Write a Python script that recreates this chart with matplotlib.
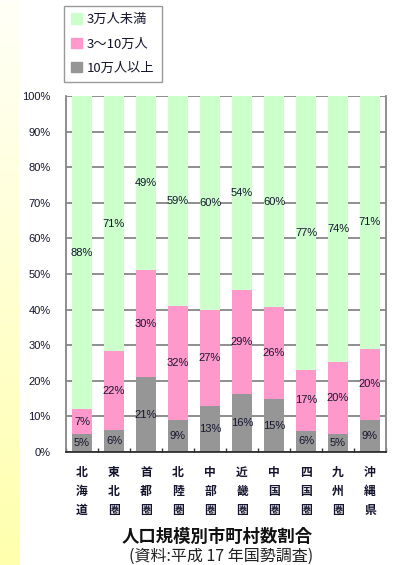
import numpy as np
import matplotlib.pyplot as plt
from matplotlib.patches import Patch

plt.rcParams['font.family'] = ['Noto Sans CJK JP', 'DejaVu Sans']

regions = ['北海道', '東北圏', '首都圏', '北陸圏', '中部圏',
           '近畿圏', '中国圏', '四国圏', '九州圏', '沖縄県']
large = [5, 6, 21, 9, 13, 16, 15, 6, 5, 9]        # 10万人以上
middle = [7, 22, 30, 32, 27, 29, 26, 17, 20, 20]  # 3～10万人
small = [88, 71, 49, 59, 60, 54, 60, 77, 74, 71]  # 3万人未満

c_small = '#ccffcc'
c_mid = '#ff99cc'
c_large = '#969696'
txt = '#14142e'

fig = plt.figure(figsize=(3.94, 5.65), dpi=100)
fig.patch.set_facecolor('white')

# pale yellow strip on the left edge
strip = fig.add_axes([0, 0, 19 / 394, 1])
grad = np.linspace(0, 1, 256).reshape(-1, 1)
top = np.array([1.0, 1.0, 0.97])
bot = np.array([1.0, 1.0, 0.68])
img = top + (bot - top) * grad[:, :, None]
strip.imshow(img, aspect='auto', extent=[0, 1, 0, 1])
strip.axis('off')

ax = fig.add_axes([66 / 394, 1 - 452 / 565, 320 / 394, 356 / 565])
x = np.arange(len(regions))
w = 0.62

# 100% stacked: each column scaled by its own total
vals = np.array([large, middle, small], dtype=float)
share = vals / vals.sum(axis=0) * 100
bottoms = np.vstack([np.zeros(len(regions)), np.cumsum(share, axis=0)[:-1]])
colors = [c_large, c_mid, c_small]

for k in range(3):
    bars = ax.bar(x, share[k], w, bottom=bottoms[k], color=colors[k], zorder=2)
    for i, r in enumerate(bars):
        ax.text(r.get_x() + r.get_width() / 2, r.get_y() + r.get_height() / 2,
                f'{int(vals[k, i])}%', ha='center', va='center', fontsize=8,
                color=txt, family='Liberation Sans', zorder=3)

ax.set_xlim(-0.5, len(regions) - 0.5)
ax.set_ylim(0, 100)
ax.set_yticks(range(0, 101, 10))
ax.set_yticklabels([f'{v}%' for v in range(0, 101, 10)],
                   family='Liberation Sans', fontsize=8, color=txt)
ax.yaxis.grid(True, color='#868686', lw=1.3, zorder=0)
ax.tick_params(axis='y', length=0, pad=11)

# ticks between categories, pointing up
ax.set_xticks(np.arange(-0.5, len(regions), 1))
ax.set_xticklabels([])
ax.tick_params(axis='x', direction='in', length=3, width=1, color='#333333')

for i, name in enumerate(regions):
    ax.text(i, -0.04, '\n'.join(name), transform=ax.get_xaxis_transform(),
            ha='center', va='top', fontsize=8.5, fontweight='bold',
            color=txt, linespacing=1.6)

for s in ('left', 'right'):
    ax.spines[s].set_color('#868686')
    ax.spines[s].set_linewidth(1.3)
ax.spines['top'].set_visible(False)
ax.spines['bottom'].set_color('#222222')
ax.spines['bottom'].set_linewidth(1.2)

handles = [Patch(color=c_small, label='3万人未満'),
           Patch(color=c_mid, label='3～10万人'),
           Patch(color=c_large, label='10万人以上')]
leg = fig.legend(handles=handles, loc='upper left',
                 bbox_to_anchor=(64 / 394, 1 - 6 / 565),
                 fontsize=9.5, frameon=True, fancybox=False,
                 handlelength=0.85, handleheight=0.85, handletextpad=0.35,
                 labelspacing=0.85, borderpad=0.55, borderaxespad=0)
leg.get_frame().set_edgecolor('#808080')
leg.get_frame().set_linewidth(1.0)
for t in leg.get_texts():
    t.set_color(txt)

fig.text(217 / 394, 1 - 537 / 565, '人口規模別市町村数割合', ha='center',
         va='center', fontsize=12.5, fontweight='bold', color='#111111')
fig.text(221 / 394, 1 - 556 / 565, '(資料:平成 17 年国勢調査)', ha='center',
         va='center', fontsize=11.5, color='#222222')

fig.savefig('out.png', dpi=100)
